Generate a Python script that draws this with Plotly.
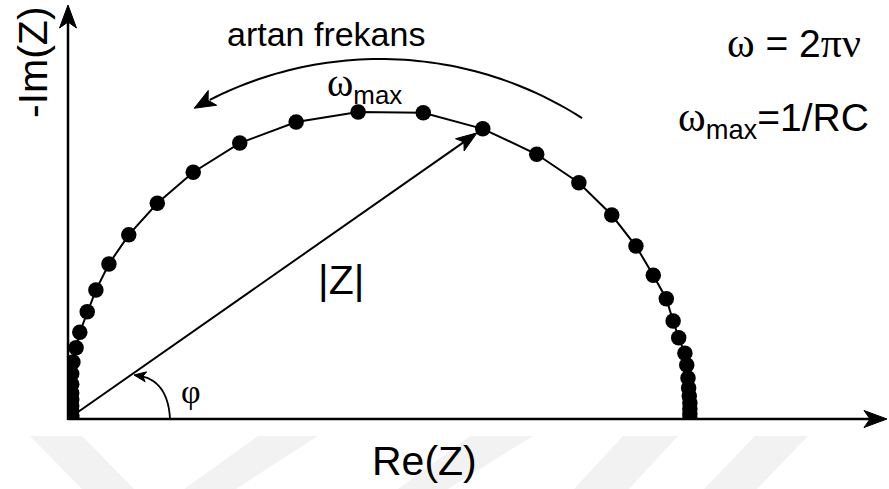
import math
import plotly.graph_objects as go

# Nyquist plot of a parallel RC element, impedance normalised to R
# (ordered from low frequency on the right to high frequency at the origin)
re_z = [1.003, 1.003, 1.003, 1.003, 1.002, 1.001, 1.000, 0.998, 0.995,
        0.985, 0.976, 0.965, 0.944, 0.916, 0.877, 0.824, 0.756, 0.669,
        0.573, 0.468, 0.368, 0.277, 0.202, 0.144, 0.098, 0.066, 0.045,
        0.031, 0.019, 0.013, 0.008, 0.006, 0.006, 0.006, 0.006, 0.006,
        0.006, 0.006, 0.006]
neg_im_z = [0.000, 0.008, 0.016, 0.026, 0.037, 0.050, 0.066, 0.087, 0.106,
            0.131, 0.158, 0.194, 0.232, 0.279, 0.329, 0.381, 0.427, 0.468,
            0.494, 0.495, 0.479, 0.445, 0.398, 0.348, 0.297, 0.250, 0.208,
            0.173, 0.140, 0.115, 0.092, 0.073, 0.056, 0.042, 0.031, 0.021,
            0.013, 0.006, 0.002]
vector_point = 17          # point the |Z| vector is drawn to

W, H = 889, 489
X0, Y0 = 68, 419           # pixel position of the origin
SCALE = 620                # pixels per unit of Re/Im

SANS = "Liberation Sans, Arial, sans-serif"
SERIF = "Liberation Serif, Times New Roman, serif"
INK = "black"


def paper(px, py):
    """pixel position -> paper coordinates"""
    return (px - X0) / (W - X0), (Y0 - py) / Y0


def to_px(re, im):
    return X0 + re * SCALE, Y0 - im * SCALE


def path_from(points, close=False):
    parts = []
    for i, (px, py) in enumerate(points):
        x, y = paper(px, py)
        parts.append(("M" if i == 0 else "L") + f"{x:.5f},{y:.5f}")
    return " ".join(parts) + (" Z" if close else "")


def arrow_head(tip, direction, length=22, half=8, notch=6):
    """barbed arrow head polygon (pixel space), direction = unit vector"""
    dx, dy = direction
    nx, ny = -dy, dx
    tx, ty = tip
    pts = [(tx, ty),
           (tx - length * dx + half * nx, ty - length * dy + half * ny),
           (tx - (length - notch) * dx, ty - (length - notch) * dy),
           (tx - length * dx - half * nx, ty - length * dy - half * ny)]
    return dict(type="path", xref="paper", yref="paper", path=path_from(pts, True),
                fillcolor=INK, line=dict(color=INK, width=1), layer="above")


def seg(p0, p1, width):
    x0, y0 = paper(*p0)
    x1, y1 = paper(*p1)
    return dict(type="line", xref="paper", yref="paper", x0=x0, y0=y0, x1=x1, y1=y1,
                line=dict(color=INK, width=width), layer="above")


def poly(points, width):
    return dict(type="path", xref="paper", yref="paper", path=path_from(points),
                line=dict(color=INK, width=width), layer="above")


def label(text, px, py, size, family=SANS, angle=0, xanchor="center"):
    x, y = paper(px, py)
    return dict(text=text, x=x, y=y, xref="paper", yref="paper", showarrow=False,
                xanchor=xanchor, yanchor="middle", textangle=angle,
                font=dict(family=family, size=size, color=INK))


fig = go.Figure()
fig.add_trace(go.Scatter(
    x=re_z, y=neg_im_z, mode="lines+markers",
    line=dict(color=INK, width=2),
    marker=dict(color=INK, size=15.5),
    cliponaxis=True, hoverinfo="skip"))

shapes = []

# faint background chevrons
wm = "#f2f2f2"
for top_l, top_r, bot_l, bot_r in [((30, 436), (82, 436), (134, 489), (82, 489)),
                                   ((258, 436), (318, 436), (236, 489), (184, 489)),
                                   ((470, 436), (533, 436), (448, 489), (398, 489)),
                                   ((623, 436), (678, 436), (629, 489), (574, 489)),
                                   ((755, 436), (808, 436), (757, 489), (704, 489))]:
    shapes.append(dict(type="path", xref="paper", yref="paper",
                       path=path_from([top_l, top_r, bot_l, bot_r], True),
                       fillcolor=wm, line=dict(width=0), layer="below"))

# axes with arrow heads
x_tip, y_tip = (887, Y0), (X0, 5)
shapes.append(seg((X0, Y0), (x_tip[0] - 16, Y0), 2.5))
shapes.append(arrow_head(x_tip, (1, 0), length=23, half=8.5))
shapes.append(seg((X0, Y0 + 1), (X0, y_tip[1] + 16), 2.5))
shapes.append(arrow_head(y_tip, (0, -1), length=23, half=8.5))

# |Z| vector from the origin to one measured point
px, py = to_px(re_z[vector_point], neg_im_z[vector_point])
vx, vy = px - X0, py - Y0
vlen = math.hypot(vx, vy)
ux, uy = vx / vlen, vy / vlen
tip = (px - 7 * ux, py - 7 * uy)
shapes.append(seg((X0, Y0), (tip[0] - 14 * ux, tip[1] - 14 * uy), 2))
shapes.append(arrow_head(tip, (ux, uy), length=21, half=7.5, notch=5))

# phase angle arc
phi_pts = []
p0, c, p2 = (170, Y0), (168, 380), (138, 375.5)
for i in range(31):
    t = i / 30
    phi_pts.append(((1 - t) ** 2 * p0[0] + 2 * (1 - t) * t * c[0] + t ** 2 * p2[0],
                    (1 - t) ** 2 * p0[1] + 2 * (1 - t) * t * c[1] + t ** 2 * p2[1]))
shapes.append(poly(phi_pts, 1.8))
d = (p2[0] - c[0], p2[1] - c[1])
dl = math.hypot(*d)
shapes.append(arrow_head((134, 375), (d[0] / dl, d[1] / dl), length=12, half=5, notch=3))

# "increasing frequency" arc arrow
cx, cy, r = 380, 434, 375
a0, a1 = math.radians(57.4), math.radians(117.0)
arc = [(cx + r * math.cos(a0 + (a1 - a0) * i / 60), cy - r * math.sin(a0 + (a1 - a0) * i / 60))
       for i in range(61)]
shapes.append(poly(arc, 2))
a_tip = math.radians(119.7)
tip = (cx + r * math.cos(a_tip), cy - r * math.sin(a_tip))
tang = (-math.sin(a_tip), -math.cos(a_tip))
shapes.append(arrow_head(tip, tang, length=21, half=8.5, notch=5))


def serif(s, size):
    return f"<span style='font-family:{SERIF};font-size:{size}px'>{s}</span>"


annotations = [
    label("-Im(Z)", 33, 62, 41, angle=-90),
    label("Re(Z)", 424, 461, 41),
    label("artan frekans", 326, 34, 34),
    label(serif("ω", 42) + " = 2" + serif("πν", 42), 794, 43, 39),
    label(serif("ω", 42) + "<sub>max</sub>=1/RC", 773, 120, 39),
    label(serif("ω", 40) + "<sub>max</sub>", 364, 84, 37),
    label("|Z|", 341, 280, 41),
    label("φ", 191, 391, 34, family=SERIF),
]

fig.update_layout(
    width=W, height=H,
    margin=dict(l=X0, r=0, t=0, b=H - Y0, pad=0),
    paper_bgcolor="white", plot_bgcolor="white",
    showlegend=False,
    xaxis=dict(range=[0, (W - X0) / SCALE], visible=False, fixedrange=True),
    yaxis=dict(range=[0, Y0 / SCALE], visible=False, fixedrange=True),
    shapes=shapes, annotations=annotations,
)

fig.write_html("out.html")
